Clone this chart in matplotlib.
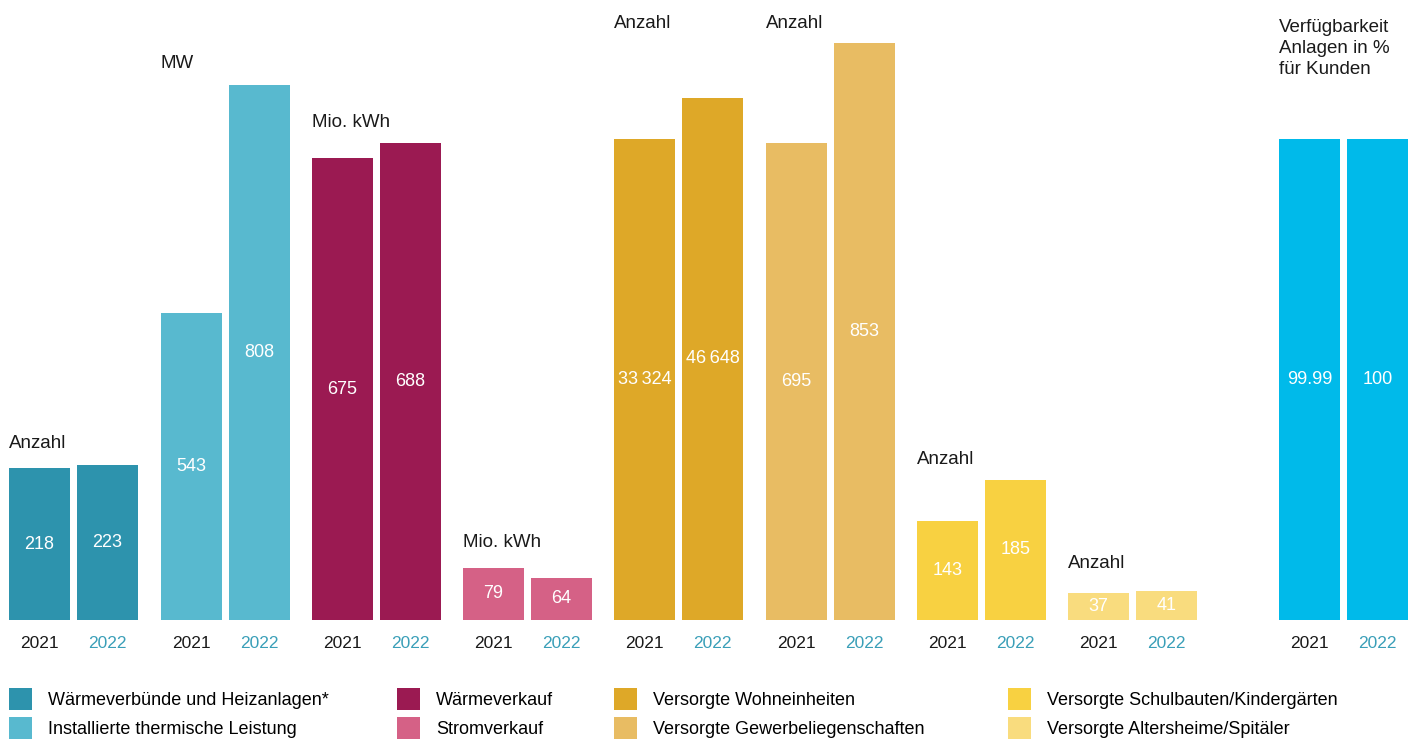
import matplotlib
matplotlib.use("Agg")
import matplotlib.pyplot as plt
from matplotlib.patches import Patch

plt.rcParams['font.family'] = ['Liberation Sans', 'DejaVu Sans']

# data
years = ["2021", "2022"]
heat_networks = [218, 223]          # Waermeverbuende und Heizanlagen*
thermal_power = [543, 808]          # MW
heat_sales = [675, 688]             # Mio. kWh
power_sales = [79, 64]              # Mio. kWh
homes = [33324, 46648]              # Anzahl
business = [695, 853]               # Anzahl
schools = [143, 185]                # Anzahl
care_homes = [37, 41]               # Anzahl
availability = [99.99, 100]         # %

value_text = [
    ["218", "223"], ["543", "808"], ["675", "688"], ["79", "64"],
    ["33\u2009324", "46\u2009648"], ["695", "853"], ["143", "185"],
    ["37", "41"], ["99.99", "100"],
]
units = ["Anzahl", "MW", "Mio. kWh", "Mio. kWh", "Anzahl", "Anzahl",
         "Anzahl", "Anzahl", "Verfügbarkeit\nAnlagen in %\nfür Kunden"]
legend_labels = ["Wärmeverbünde und Heizanlagen*", "Installierte thermische Leistung",
                 "Wärmeverkauf", "Stromverkauf",
                 "Versorgte Wohneinheiten", "Versorgte Gewerbeliegenschaften",
                 "Versorgte Schulbauten/Kindergärten", "Versorgte Altersheime/Spitäler"]

series = [heat_networks, thermal_power, heat_sales, power_sales, homes,
          business, schools, care_homes, availability]

# layout / style
colors = ["#2d93ad", "#58b9cf", "#9b1a52", "#d56186", "#dea828",
          "#e8bc63", "#f8d141", "#f9dc7e", "#00baea"]
year_colors = ["#1a1a1a", "#3a9fb8"]
W, H = 1408, 740
base_px, top_px = 620, 40
group_left = [9, 161, 312, 463, 614, 766, 917, 1068, 1279]
group_w = 129
# every group has its own scale, like in the original graphic
ylims = [(0, 833), (186, 860), (274.6, 777.3), (0, 874), (-122988, 65496),
         (-58.7, 857.7), (41.6, 635.6), (0, 808), (0, 120.6)]
unit_y = [0.305, 0.960, 0.857, 0.134, 1.029, 1.029, 0.276, 0.0966, 0.986]

fig = plt.figure(figsize=(W / 100, H / 100), dpi=100)
bar_w = 61 / 68

for i, vals in enumerate(series):
    ax = fig.add_axes([group_left[i] / W, (H - base_px) / H,
                       group_w / W, (base_px - top_px) / H])
    lo, hi = ylims[i]
    xs = [0, 1]
    ax.bar(xs, [v - lo for v in vals], bottom=lo, width=bar_w,
           color=colors[i])
    ax.set_ylim(lo, hi)
    ax.set_xlim(-bar_w / 2, 1 + bar_w / 2)
    for x, v, t in zip(xs, vals, value_text[i]):
        ax.text(x, (lo + v) / 2, t, color="white", ha="center",
                va="center", fontsize=13)
    ax.set_xticks(xs, years, fontsize=12.5)
    for lab, c in zip(ax.get_xticklabels(), year_colors):
        lab.set_color(c)
    ax.tick_params(axis="x", length=0, pad=11.5)
    ax.set_yticks([])
    for s in ax.spines.values():
        s.set_visible(False)
    ax.text(0, unit_y[i], units[i], transform=ax.transAxes, ha="left",
            va="center", fontsize=13.5, color="#1a1a1a", linespacing=1.3)

# legend, four columns of two entries
leg_x = [9, 397, 614, 1008]
for k in range(4):
    handles = [Patch(facecolor=colors[2 * k + j], edgecolor="none") for j in range(2)]
    fig.legend(handles, legend_labels[2 * k:2 * k + 2], loc="upper left",
               bbox_to_anchor=(leg_x[k] / W, 1 - 688 / H), frameon=False,
               borderpad=0, borderaxespad=0,
               handlelength=1.3, handleheight=1.5, handletextpad=0.85,
               labelspacing=0.4, prop={'size': 13})

fig.savefig("out.png", dpi=100)
